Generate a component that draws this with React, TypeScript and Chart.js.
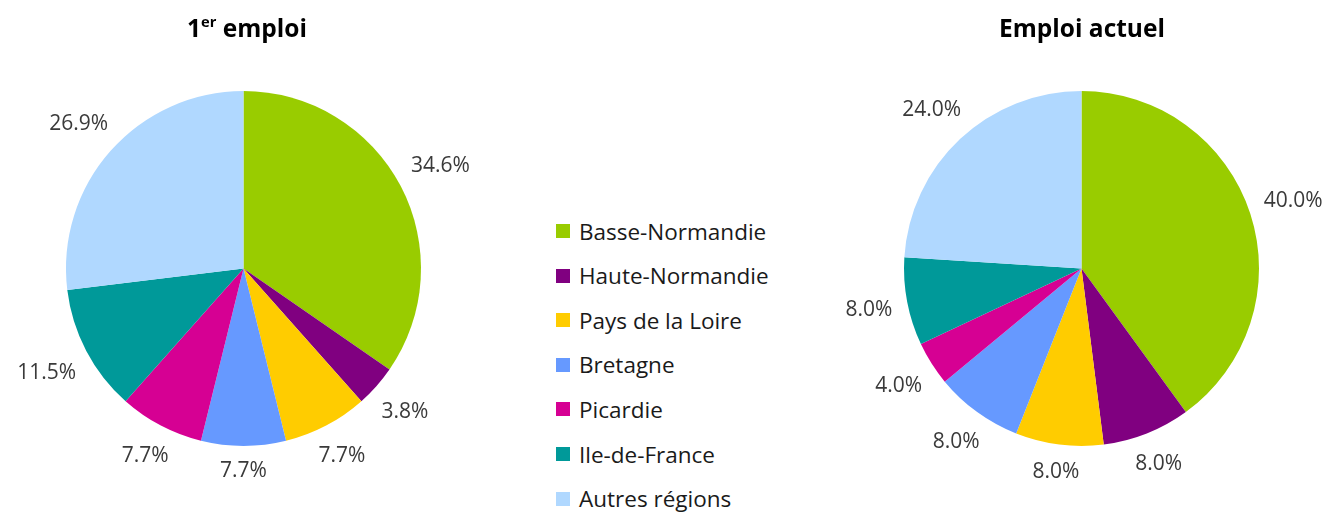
import React, { useEffect, useRef } from "react";
import { Chart, registerables } from "chart.js";

Chart.register(...registerables);

const categories = [
  "Basse-Normandie",
  "Haute-Normandie",
  "Pays de la Loire",
  "Bretagne",
  "Picardie",
  "Ile-de-France",
  "Autres régions",
];
const firstJobValues = [34.6, 3.8, 7.7, 7.7, 7.7, 11.5, 26.9];
const currentJobValues = [40.0, 8.0, 8.0, 8.0, 4.0, 8.0, 24.0];
const sliceColors = ["#99CC00", "#800080", "#FFCC00", "#6699FF", "#D60093", "#009999", "#B0D8FF"];

const FONT = "'Open Sans', Lato, sans-serif";

const outsideLabels = {
  id: "outsideLabels",
  afterDatasetsDraw(chart: any) {
    const ctx = chart.ctx;
    const meta = chart.getDatasetMeta(0);
    const data = chart.data.datasets[0].data as number[];
    ctx.save();
    ctx.font = `21px ${FONT}`;
    ctx.fillStyle = "#3a3a3a";
    ctx.textAlign = "center";
    ctx.textBaseline = "middle";
    meta.data.forEach((arc: any, i: number) => {
      const p = arc.getProps(["x", "y", "startAngle", "endAngle", "outerRadius"], true);
      const mid = (p.startAngle + p.endAngle) / 2;
      const dx = Math.cos(mid);
      const dy = Math.sin(mid);
      const text = data[i].toFixed(1) + "%";
      const w = ctx.measureText(text).width;
      const h = 20;
      const d = p.outerRadius + 14 + (Math.abs(dx) * w) / 2 + (Math.abs(dy) * h) / 2;
      ctx.fillText(text, p.x + dx * d, p.y + dy * d + 1);
    });
    ctx.restore();
  },
};

function PieCanvas(props: { values: number[]; width: number; pad: { left: number; right: number; top: number; bottom: number } }) {
  const ref = useRef<HTMLCanvasElement>(null);
  useEffect(() => {
    if (!ref.current) return;
    const chart = new Chart(ref.current, {
      type: "pie",
      data: {
        labels: categories,
        datasets: [
          {
            data: props.values,
            backgroundColor: sliceColors,
            borderWidth: 0,
          },
        ],
      },
      options: {
        animation: false,
        responsive: false,
        layout: { padding: props.pad },
        plugins: {
          legend: { display: false },
          tooltip: { enabled: false },
          title: { display: false },
        },
      },
      plugins: [outsideLabels],
    });
    return () => chart.destroy();
  }, []);
  return <canvas ref={ref} width={props.width} height={513} style={{ width: props.width, height: 513 }} />;
}

export default function App() {
  const titleStyle: React.CSSProperties = {
    position: "absolute",
    top: 12,
    fontFamily: FONT,
    fontWeight: 700,
    fontSize: 24.5,
    color: "#000",
    textAlign: "center",
    width: 300,
    lineHeight: "32px",
    whiteSpace: "nowrap",
  };
  return (
    <div style={{ position: "fixed", left: 0, top: 0, width: 1331, height: 513, background: "#fff", overflow: "hidden" }}>
      <div style={{ position: "absolute", left: 0, top: 0 }}>
        <PieCanvas values={firstJobValues} width={490} pad={{ left: 66, right: 69, top: 91, bottom: 67 }} />
      </div>
      <div style={{ position: "absolute", left: 840, top: 0 }}>
        <PieCanvas values={currentJobValues} width={491} pad={{ left: 64, right: 72, top: 91, bottom: 67 }} />
      </div>
      <div style={{ ...titleStyle, left: 247 - 150 }}>
        1<sup style={{ fontSize: "0.6em", verticalAlign: "0", position: "relative", top: -10 }}>er</sup> emploi
      </div>
      <div style={{ ...titleStyle, left: 1082 - 150 }}>Emploi actuel</div>
      {categories.map((c, i) => (
        <div
          key={c}
          style={{
            position: "absolute",
            left: 556,
            top: 217 + i * 44.6,
            height: 28,
            display: "flex",
            alignItems: "center",
            fontFamily: FONT,
            fontSize: 22.5,
            color: "#1a1a1a",
            whiteSpace: "nowrap",
          }}
        >
          <span style={{ display: "inline-block", width: 14, height: 14, background: sliceColors[i], marginRight: 9 }} />
          {c}
        </div>
      ))}
    </div>
  );
}
